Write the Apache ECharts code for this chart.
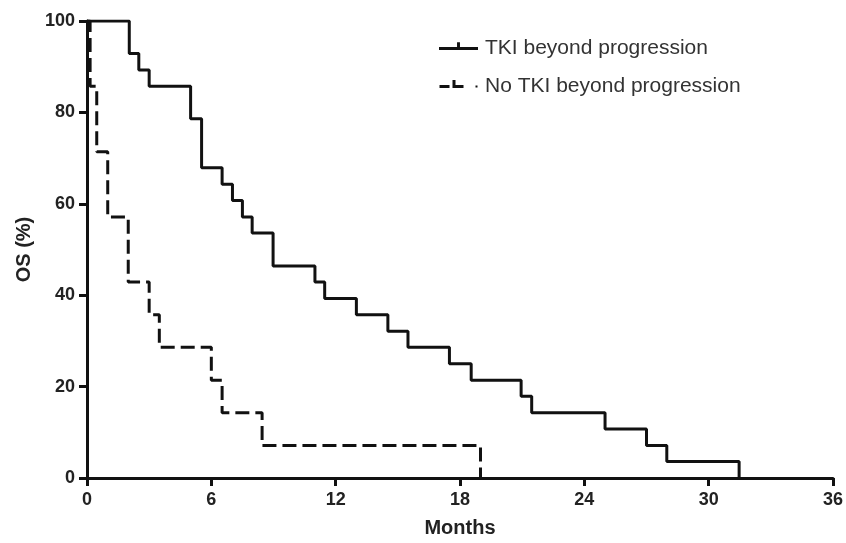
<!DOCTYPE html>
<html>
<head>
<meta charset="utf-8">
<script src="https://cdn.jsdelivr.net/npm/echarts@6/dist/echarts.min.js"></script>
<style>
html,body{margin:0;padding:0;background:#fff;}
#chart{width:846px;height:543px;}
</style>
</head>
<body>
<div id="chart"></div>
<script>
// Kaplan-Meier step points: [months, OS %]
var seriesNames = ['TKI beyond progression', 'No TKI beyond progression'];
var tkiMonths = [0, 2.04, 2.5, 3.0, 5.0, 5.53, 6.52, 7.02, 7.5, 7.97, 8.98, 11.0, 11.47, 13.0, 14.52, 15.49, 17.49, 18.54, 20.95, 21.46, 25.0, 27.0, 27.98, 31.47];
var tkiOS     = [100, 92.9, 89.3, 85.7, 78.6, 67.9, 64.3, 60.7, 57.1, 53.6, 46.4, 42.9, 39.3, 35.7, 32.1, 28.6, 25.0, 21.4, 17.9, 14.3, 10.7, 7.1, 3.6, 0];
var noTkiMonths = [0, 0.15, 0.47, 1.0, 1.99, 3.0, 3.49, 6.0, 6.52, 8.45, 18.99];
var noTkiOS     = [100, 85.7, 71.4, 57.1, 42.9, 35.7, 28.6, 21.4, 14.3, 7.1, 0];
var xTicks = [0, 6, 12, 18, 24, 30, 36];
var yTicks = [0, 20, 40, 60, 80, 100];

function pairs(xs, ys){ return xs.map(function(x,i){ return [x, ys[i]]; }); }

var FONT = 'Liberation Sans, Arial, Helvetica, sans-serif';
var solidIcon  = 'path://M0,5h40v3h-40z M18.5,0h3v5h-3z M0,12.9h0.1v0.1h-0.1z';
var dashedIcon = 'path://M0,5h10v3h-10z M13,5h11v3h-11z M13,0h3v5h-3z M36,5.5h2v2h-2z M0,12.9h0.1v0.1h-0.1z';

var chart = echarts.init(document.getElementById('chart'), null, {renderer:'canvas'});
var axisFont = {fontFamily:FONT, fontWeight:'bold', fontSize:18, color:'#222'};
chart.setOption({
  animation:false,
  backgroundColor:'#fff',
  grid:{left:87, right:13, top:21, bottom:60, containLabel:false},
  legend:{
    orient:'vertical', left:439, top:38, padding:0, itemGap:17, itemWidth:39, itemHeight:13,
    itemStyle:{borderWidth:0},
    textStyle:{fontFamily:FONT, fontSize:21, lineHeight:21, color:'#333', padding:[0,0,0,2]},
    data:[{name:seriesNames[0], icon:solidIcon}, {name:seriesNames[1], icon:dashedIcon}]
  },
  xAxis:{
    type:'value', min:xTicks[0], max:xTicks[xTicks.length-1], interval:6,
    name:'Months', nameLocation:'middle', nameGap:40,
    nameTextStyle:{fontFamily:FONT, fontWeight:'bold', fontSize:20, color:'#222'},
    axisLine:{show:true, lineStyle:{color:'#111', width:3}},
    axisTick:{show:true, length:8, lineStyle:{color:'#111', width:3}},
    axisLabel:Object.assign({margin:13}, axisFont),
    splitLine:{show:false}
  },
  yAxis:{
    type:'value', min:yTicks[0], max:yTicks[yTicks.length-1], interval:20,
    name:'OS (%)', nameLocation:'middle', nameGap:53,
    nameTextStyle:{fontFamily:FONT, fontWeight:'bold', fontSize:20, color:'#222'},
    axisLine:{show:true, lineStyle:{color:'#111', width:3}},
    axisTick:{show:true, length:8, lineStyle:{color:'#111', width:3}},
    axisLabel:Object.assign({margin:12}, axisFont),
    splitLine:{show:false}
  },
  series:[
    {name:seriesNames[0], type:'line', step:'end', data:pairs(tkiMonths, tkiOS),
     symbol:'none', lineStyle:{color:'#111', width:3}, itemStyle:{color:'#111'}},
    {name:seriesNames[1], type:'line', step:'end', data:pairs(noTkiMonths, noTkiOS),
     symbol:'none', lineStyle:{color:'#111', width:3, type:[14,6]}, itemStyle:{color:'#111'}}
  ]
});
</script>
</body>
</html>
